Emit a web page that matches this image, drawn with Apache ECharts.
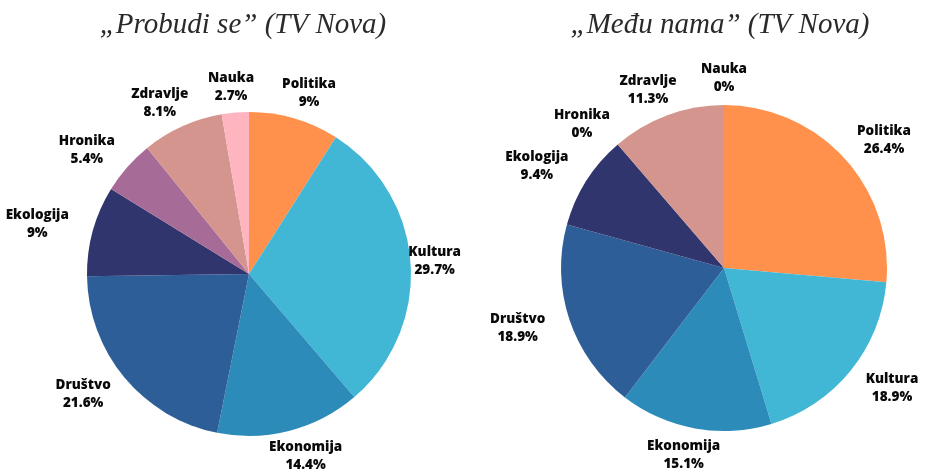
<!DOCTYPE html>
<html>
<head>
<meta charset="utf-8">
<script src="https://cdn.jsdelivr.net/npm/echarts@6/dist/echarts.min.js"></script>
<style>
  html, body { margin: 0; padding: 0; background: #fff; }
  #chart { width: 927px; height: 472px; }
</style>
</head>
<body>
<div id="chart"></div>
<script>
// kategorije (redosled u smeru kazaljke, od vrha)
var categories = ['Politika', 'Kultura', 'Ekonomija', 'Društvo', 'Ekologija', 'Hronika', 'Zdravlje', 'Nauka'];
// „Probudi se” (TV Nova), %
var probudiSe = [9, 29.7, 14.4, 21.6, 9, 5.4, 8.1, 2.7];
// „Među nama” (TV Nova), %
var meduNama = [26.4, 18.9, 15.1, 18.9, 9.4, 0, 11.3, 0];
var titles = ['„Probudi se” (TV Nova)', '„Među nama” (TV Nova)'];
var colors = ['#ff914d', '#41b7d5', '#2d8bba', '#2e5e98', '#31356e', '#a66c97', '#d4958f', '#ffb5c0'];

var chart = echarts.init(document.getElementById('chart'));

// raspored pita
var pies = [
  { center: [249, 274], radius: 162, labelDist: 188, frame: [2, 461] },
  { center: [724, 268], radius: 163, labelDist: 190, frame: [466, 925] }
];
var seriesData = [probudiSe, meduNama];

// ugao sredine svakog isečka (iz podataka)
function midAngles(values) {
  var total = values.reduce(function (a, b) { return a + b; }, 0);
  var acc = 0;
  return values.map(function (v) {
    var a = (acc + v / 2) / total * Math.PI * 2;
    acc += v;
    return a;
  });
}
var angles = seriesData.map(midAngles);

function buildSeries(values, idx) {
  var p = pies[idx];
  return {
    type: 'pie',
    name: titles[idx],
    center: p.center,
    radius: [0, p.radius],
    startAngle: 90,
    clockwise: true,
    avoidLabelOverlap: false,
    silent: true,
    itemStyle: { borderWidth: 0 },
    label: {
      show: true,
      position: 'inside',
      formatter: function (d) { return d.name + '\n' + d.value + '%'; },
      fontFamily: '"Open Sans", sans-serif',
      fontWeight: 800,
      fontSize: 13.5,
      lineHeight: 18,
      color: '#0a0a0a'
    },
    labelLine: { show: false },
    labelLayout: function (params) {
      var a = angles[idx][params.dataIndex];
      var ux = Math.sin(a), uy = -Math.cos(a);
      var w = params.labelRect.width;
      var x = p.center[0] + ux * p.labelDist + ux * w / 2;
      var y = p.center[1] + uy * p.labelDist;
      x = Math.max(p.frame[0] + w / 2, Math.min(p.frame[1] - w / 2, x));
      return { x: x, y: y, align: 'center', verticalAlign: 'middle' };
    },
    data: categories.map(function (c, i) {
      return { name: c, value: values[i] };
    })
  };
}

var titleStyle = {
  fontFamily: '"Liberation Serif", serif',
  fontStyle: 'italic',
  fontWeight: 'normal',
  fontSize: 29,
  color: '#2a2a2a'
};

var option = {
  animation: false,
  color: colors,
  title: [
    { text: titles[0], left: 238, top: 6, textAlign: 'center', textStyle: titleStyle },
    { text: titles[1], left: 715, top: 6, textAlign: 'center', textStyle: titleStyle }
  ],
  series: [buildSeries(probudiSe, 0), buildSeries(meduNama, 1)]
};
chart.setOption(option);
</script>
</body>
</html>
